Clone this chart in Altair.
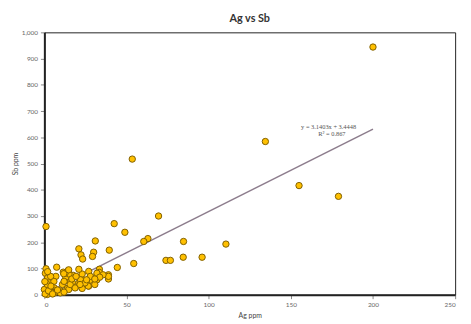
import altair as alt
import pandas as pd

ag = [200, 134.5, 53.5, 155, 179, 69.5, 42.5, 1, 49, 63, 60.5, 84.7, 31, 110.5,
      21, 39.5, 22.3, 30, 29.3, 23.3, 74, 76.7, 84.5, 96, 54.4, 44.4, 1, 7.5,
      33.5, 0.6, 14.5, 11.5, 17.5, 13, 7, 2, 22, 27.5, 32, 33.5, 39, 39, 39,
      27.5, 32, 21, 16, 11, 6, 3, 27, 23, 19, 14, 10, 6, 1, 0, 4, 27, 32, 23,
      28, 22, 17, 26, 12, 21, 15, 12.6, 3.8, 1.8, 9.7, 14.8, 18.7, 26.7, 30.7,
      24.7, 21.7, 15.7, 1.8, 5.8, 35.7, 33.7, 30.7, 25.7, 16.7, 19.3, 3.8, 11.8,
      14.8, 0.5, 2.5, 5, 8, 12, 4, 0.3, 2]
sb = [944, 584, 517, 416, 375, 300, 271, 260, 238, 214, 203, 203, 205, 193,
      175, 170, 152, 162, 146, 136, 131, 131, 143, 143, 119, 104, 99, 105,
      97, 82, 92, 86, 74, 66, 70, 64, 66, 64, 74, 85, 76, 60, 70,
      54, 57, 45, 51, 39, 26, 45, 33, 24, 29, 24, 14, 7, 7, 20, 26, 89, 82, 79,
      70, 57, 47, 41, 51, 97, 79, 82, 10, 1, 7, 20, 26, 33, 39,
      45, 39, 39, 39, 51, 76, 67, 60, 57, 60, 70, 70, 80,
      95, 3, 15, 3, 18, 10, 33, 50, 88]

trend_x = [0, 200]
trend_y = [3.4, 631.5]

x_ticks = [0, 50, 100, 150, 200, 250]
y_ticks = [0, 100, 200, 300, 400, 500, 600, 700, 800, 900, 1000]

eq_text = ["y = 3.1403x + 3.4448", "R² = 0.867"]
eq_x = [173, 175]
eq_y = [640, 614]

pts = pd.DataFrame({"Ag": ag, "Sb": sb})
trend = pd.DataFrame({"Ag": trend_x, "Sb": trend_y})
eq = pd.DataFrame({"Ag": eq_x, "Sb": eq_y, "t": eq_text})

xs = alt.Scale(domain=[0, 250], nice=False)
ys = alt.Scale(domain=[0, 1000], nice=False)


def xenc():
    return alt.X("Ag:Q", scale=xs,
                 axis=alt.Axis(title="Ag ppm", values=x_ticks, format="d",
                               titlePadding=4, labelOverlap=False))


def yenc():
    return alt.Y("Sb:Q", scale=ys,
                 axis=alt.Axis(title="Sb ppm", values=y_ticks, format=",d",
                               titlePadding=3, labelOverlap=False))


points = alt.Chart(pts).mark_point(
    shape="circle", filled=True, size=42, fill="#FFC000", stroke="#7F5F00",
    strokeWidth=1, opacity=1
).encode(x=xenc(), y=yenc())

line = alt.Chart(trend).mark_line(color="#8C7C8C", strokeWidth=1.5).encode(
    x=xenc(), y=yenc())

text = alt.Chart(eq).mark_text(fontSize=6.5, color="#555555", font="Liberation Serif").encode(
    x=xenc(), y=yenc(), text="t:N")

chart = alt.layer(line, points, text).properties(
    width=418,
    height=267,
    title=alt.TitleParams("Ag vs Sb", fontSize=11, fontWeight="bold", font="Lato",
                          color="#333333", offset=6),
    autosize=alt.AutoSizeParams(type="none"),
    padding={"left": 37, "top": 22, "right": 8, "bottom": 27},
).configure_view(
    stroke="#222222", strokeWidth=1
).configure_axis(
    grid=False, labelOverlap=False,
    domainColor="#222222", domainWidth=2,
    labelFont="Lato", labelFontSize=6.5, labelColor="#666666",
    tickColor="#888888", tickSize=4, labelPadding=3,
    titleFont="Lato", titleFontSize=7, titleFontWeight="normal", titleColor="#444444",
)

chart.save("out.html", embed_options={"renderer": "svg", "actions": False})
